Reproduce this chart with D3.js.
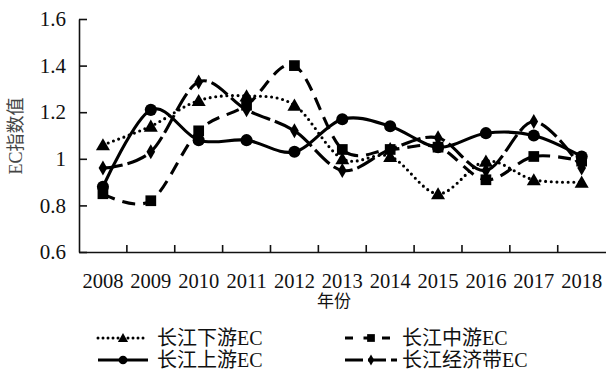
<!DOCTYPE html>
<html>
<head>
<meta charset="utf-8">
<script src="https://cdn.jsdelivr.net/npm/d3@7"></script>
<style>
  html, body { margin: 0; padding: 0; background: #fff; }
  svg { display: block; }
  text { fill: #111; }
  .num { font-family: "Liberation Serif", "Times New Roman", serif; }
  .mixed { font-family: "Liberation Serif", "Noto Sans CJK SC", serif; }
</style>
</head>
<body>
<svg id="chart" width="606" height="370"></svg>
<script>
// Years on the category axis
const years = ["2008", "2009", "2010", "2011", "2012", "2013", "2014", "2015", "2016", "2017", "2018"];
// EC index per region
const lowerReach  = [1.06, 1.14, 1.25, 1.27, 1.23, 1.00, 1.01, 0.85, 0.99, 0.91, 0.90]; // 长江下游
const middleReach = [0.85, 0.82, 1.12, 1.23, 1.40, 1.04, 1.04, 1.05, 0.91, 1.01, 0.99]; // 长江中游
const upperReach  = [0.88, 1.21, 1.08, 1.08, 1.03, 1.17, 1.14, 1.05, 1.11, 1.10, 1.01]; // 长江上游
const beltAll     = [0.96, 1.03, 1.33, 1.21, 1.12, 0.95, 1.04, 1.09, 0.95, 1.16, 0.96]; // 长江经济带
const yTicks = [0.6, 0.8, 1.0, 1.2, 1.4, 1.6];
const yTickLabels = ["0.6", "0.8", "1", "1.2", "1.4", "1.6"];
const seriesNames = ["长江下游EC", "长江中游EC", "长江上游EC", "长江经济带EC"];

const series = [
  { name: seriesNames[0], values: lowerReach,  marker: "triangle", dash: "0,5.6", cap: "round" },
  { name: seriesNames[1], values: middleReach, marker: "square",   dash: "13,8",  cap: "butt" },
  { name: seriesNames[2], values: upperReach,  marker: "circle",   dash: null,    cap: "butt" },
  { name: seriesNames[3], values: beltAll,     marker: "diamond",  dash: "20,5",  cap: "butt" }
];

const svg = d3.select("#chart");

const plotLeft = 79, plotRight = 605.6, plotTop = 19, plotBottom = 252;
const x = d3.scaleBand().domain(years).range([plotLeft, plotRight]);
const y = d3.scaleLinear().domain([0.6, 1.6]).range([plotBottom, plotTop]);
const cx = d => x(d) + x.bandwidth() / 2;

// Y axis with inward ticks
const yAxis = svg.append("g")
  .attr("transform", `translate(${plotLeft},0)`)
  .call(d3.axisLeft(y).tickValues(yTicks)
    .tickFormat((d, i) => yTickLabels[i])
    .tickSizeInner(-8).tickSizeOuter(0).tickPadding(13));
yAxis.attr("font-family", null);
yAxis.select(".domain").attr("stroke", "#111").attr("stroke-width", 1.6);
yAxis.selectAll(".tick line").attr("stroke", "#111").attr("stroke-width", 1.6);
yAxis.selectAll("text").attr("class", "num").style("font-size", "21px").attr("fill", "#111");

// X axis: labels at band centres, tick marks at band boundaries
const xAxis = svg.append("g")
  .attr("transform", `translate(0,${plotBottom})`)
  .call(d3.axisBottom(x).tickSize(0).tickPadding(21));
xAxis.attr("font-family", null);
xAxis.select(".domain").attr("stroke", "#111").attr("stroke-width", 1.6);
xAxis.selectAll("text").attr("class", "num").style("font-size", "20.5px").attr("fill", "#111");
svg.append("g").selectAll("line")
  .data(years.slice(1))
  .join("line")
  .attr("x1", d => x(d)).attr("x2", d => x(d))
  .attr("y1", plotBottom).attr("y2", plotBottom - 7)
  .attr("stroke", "#111").attr("stroke-width", 1.6);

// Axis titles
svg.append("text")
  .attr("class", "mixed")
  .attr("transform", "translate(22,136) rotate(-90)")
  .attr("text-anchor", "middle")
  .style("font-size", "18px")
  .style("fill", "#444")
  .text("EC指数值");
svg.append("text")
  .attr("class", "mixed")
  .attr("x", 334).attr("y", 307)
  .attr("text-anchor", "middle")
  .style("font-size", "17px")
  .text("年份");

// Marker shapes
const symbolFor = {
  triangle: d3.symbol().type(d3.symbolTriangle).size(85),
  square: d3.symbol().type(d3.symbolSquare).size(115),
  circle: d3.symbol().type(d3.symbolCircle).size(115),
  diamond: d3.symbol().type(d3.symbolDiamond).size(65)
};
const legendSymbolFor = {
  triangle: d3.symbol().type(d3.symbolTriangle).size(45),
  square: d3.symbol().type(d3.symbolSquare).size(60),
  circle: d3.symbol().type(d3.symbolCircle).size(60),
  diamond: d3.symbol().type(d3.symbolDiamond).size(35)
};

const line = d3.line()
  .x((d, i) => cx(years[i]))
  .y(d => y(d))
  .curve(d3.curveCardinal.tension(0));

// Draw series (top of stack last)
const drawOrder = [series[2], series[3], series[1], series[0]];
drawOrder.forEach(s => {
  svg.append("path")
    .datum(s.values)
    .attr("d", line)
    .attr("fill", "none")
    .attr("stroke", "#000")
    .attr("stroke-width", 3.1)
    .attr("stroke-linecap", s.cap)
    .attr("stroke-dasharray", s.dash);
  svg.append("g").selectAll("path")
    .data(s.values)
    .join("path")
    .attr("transform", (d, i) => `translate(${cx(years[i])},${y(d) + (s.marker === "triangle" ? 1.5 : 0)})`)
    .attr("d", symbolFor[s.marker])
    .attr("fill", "#000");
});

// Legend
const legendItems = [
  { s: series[0], x0: 98,  x1: 148, tx: 157, ty: 338 },
  { s: series[1], x0: 345, x1: 397, tx: 402, ty: 338 },
  { s: series[2], x0: 98,  x1: 148, tx: 157, ty: 360 },
  { s: series[3], x0: 345, x1: 397, tx: 402, ty: 360 }
];
const legendDash = { triangle: "0,5", square: "8,10.5", circle: null, diamond: "18,5" };
legendItems.forEach(it => {
  const g = svg.append("g");
  g.append("line")
    .attr("x1", it.x0).attr("x2", it.x1)
    .attr("y1", it.ty).attr("y2", it.ty)
    .attr("stroke", "#000").attr("stroke-width", 3)
    .attr("stroke-linecap", it.s.cap)
    .attr("stroke-dasharray", legendDash[it.s.marker]);
  g.append("path")
    .attr("transform", `translate(${(it.x0 + it.x1) / 2},${it.ty + (it.s.marker === "triangle" ? 1 : 0)})`)
    .attr("d", legendSymbolFor[it.s.marker])
    .attr("fill", "#000");
  g.append("text")
    .attr("class", "mixed")
    .attr("x", it.tx).attr("y", it.ty)
    .attr("dy", "0.35em")
    .style("font-size", "20px")
    .text(it.s.name);
});
</script>
</body>
</html>
